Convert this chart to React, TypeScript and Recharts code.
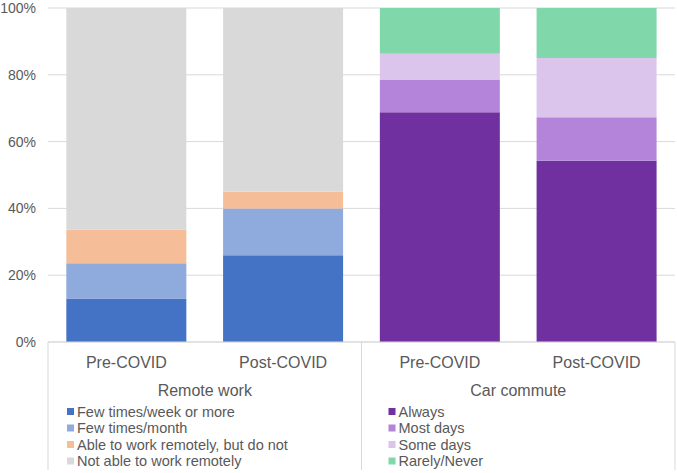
import React from 'react';
import { BarChart, Bar, XAxis, YAxis, CartesianGrid } from 'recharts';

// categories along the x axis, and which group each belongs to
const categories = ['Pre-COVID', 'Post-COVID', 'Pre-COVID', 'Post-COVID'];
const groupNames = ['Remote work', 'Car commute'];
const yTicks = [0, 20, 40, 60, 80, 100];

// Remote work (%), Pre / Post
const remoteNames = ['Few times/week or more', 'Few times/month', 'Able to work remotely, but do not', 'Not able to work remotely'];
const remoteColors = ['#4472C4', '#8FAADC', '#F5BE98', '#D9D9D9'];
const remotePre = [13, 10.6, 10.1, 66.3];
const remotePost = [26, 14, 5, 55];

// Car commute (%), Pre / Post
const carNames = ['Always', 'Most days', 'Some days', 'Rarely/Never'];
const carColors = ['#7030A0', '#B384D9', '#DBC5EC', '#80D7A9'];
const carPre = [68.8, 9.8, 7.7, 13.7];
const carPost = [54.3, 13, 17.7, 15];

const W = 677;
const H = 473;
const M = { top: 8, right: 2, left: 0, bottom: 0 };
const Y_AXIS_W = 48;
const X_AXIS_H = 131;
const FONT = '"Liberation Sans", Arial, sans-serif';
const TEXT = '#595959';
const LINE = '#D9D9D9';

const data = categories.map((c, i) => {
  const row: Record<string, any> = { name: c };
  if (i < 2) {
    const vals = i === 0 ? remotePre : remotePost;
    vals.forEach((v, k) => (row['r' + k] = v));
  } else {
    const vals = i === 2 ? carPre : carPost;
    vals.forEach((v, k) => (row['c' + k] = v));
  }
  return row;
});

const groups = [
  { names: remoteNames, colors: remoteColors, legendX: 19 },
  { names: carNames, colors: carColors, legendX: 27 },
];

const CategoryTick = (props: any) => {
  const { x, y, index, payload } = props;
  const half = payload && payload.offset ? payload.offset : (W - M.left - M.right - Y_AXIS_W) / categories.length / 2;
  const bottom = y + 128;
  const els: React.ReactNode[] = [];
  els.push(
    <text key="lbl" x={x} y={y + 26} textAnchor="middle" fontSize={16} fill={TEXT} fontFamily={FONT}>
      {payload.value}
    </text>
  );
  if (index % 2 === 0) {
    const g = groups[index / 2];
    const start = x - half;
    els.push(<line key="sep" x1={start} x2={start} y1={y} y2={bottom} stroke={LINE} />);
    els.push(
      <text key="grp" x={x + half} y={y + 54} textAnchor="middle" fontSize={16} fill={TEXT} fontFamily={FONT}>
        {groupNames[index / 2]}
      </text>
    );
    g.names.forEach((n, k) => {
      const cy = y + 69.5 + k * 16.5;
      els.push(<rect key={'sq' + k} x={start + g.legendX} y={cy - 3.5} width={7} height={7} fill={g.colors[k]} />);
      els.push(
        <text key={'lt' + k} x={start + g.legendX + 10} y={cy + 5} fontSize={14.5} fill={TEXT} fontFamily={FONT}>
          {n}
        </text>
      );
    });
  }
  if (index === categories.length - 1) {
    els.push(<line key="end" x1={x + half} x2={x + half} y1={y} y2={bottom} stroke={LINE} />);
  }
  return <g>{els}</g>;
};

export default function App() {
  return (
    <div style={{ position: 'absolute', left: 0, top: 0, width: W, height: H, background: '#fff' }}>
      <BarChart width={W} height={H} data={data} margin={M} barCategoryGap="11.7%">
        <CartesianGrid vertical={false} stroke={LINE} />
        <XAxis
          dataKey="name"
          height={X_AXIS_H}
          interval={0}
          tickLine={false}
          tickSize={0}
          tickMargin={0}
          axisLine={{ stroke: LINE }}
          tick={<CategoryTick />}
        />
        <YAxis
          width={Y_AXIS_W}
          domain={[0, 100]}
          ticks={yTicks}
          tickFormatter={(v: number) => v + '%'}
          axisLine={false}
          tickLine={false}
          tickSize={0}
          tickMargin={12}
          tick={{ fontSize: 14, fill: TEXT, fontFamily: FONT }}
        />
        {remoteNames.map((n, k) => (
          <Bar key={'r' + k} dataKey={'r' + k} name={n} stackId="a" fill={remoteColors[k]} isAnimationActive={false} />
        ))}
        {carNames.map((n, k) => (
          <Bar key={'c' + k} dataKey={'c' + k} name={n} stackId="a" fill={carColors[k]} isAnimationActive={false} />
        ))}
      </BarChart>
    </div>
  );
}
